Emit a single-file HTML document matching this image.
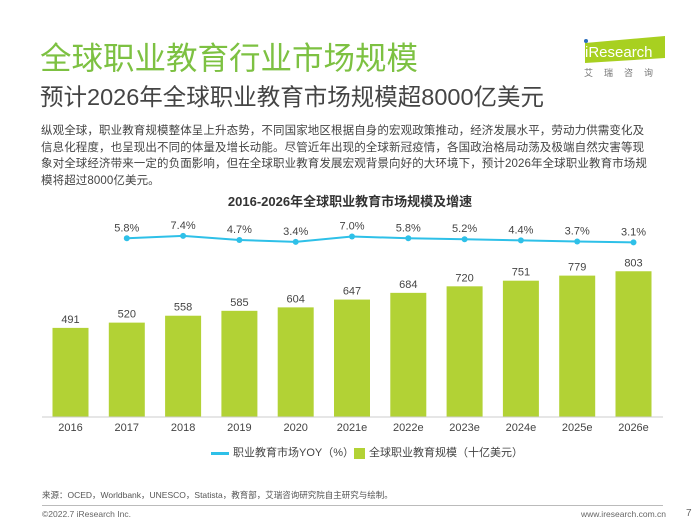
<!DOCTYPE html>
<html><head><meta charset="utf-8"><style>
body{margin:0;width:700px;height:525px;background:#fff;font-family:"Liberation Sans","Noto Sans CJK SC",sans-serif;position:relative;overflow:hidden}
.a{position:absolute;white-space:nowrap}
</style></head><body>
<div class="a" style="left:40px;top:40px;font-size:31.5px;line-height:36px;color:#7dc142">全球职业教育行业市场规模</div>
<div class="a" style="left:40px;top:84px;font-size:23.5px;line-height:26px;color:#444">预计2026年全球职业教育市场规模超8000亿美元</div>
<div class="a" style="left:581px;top:36px;width:86px;height:44px">
<svg width="86" height="44"><polygon points="4,7 84,0 84,22 4,27" fill="#a8d020"/><circle cx="5" cy="5" r="2" fill="#2a6ebb"/><text x="4" y="21" font-size="15" fill="#fff" font-family="Liberation Sans">iResearch</text><text x="3" y="40" font-size="9" fill="#777" letter-spacing="11">艾瑞咨询</text></svg></div>
<div class="a" style="left:41px;top:123px;font-size:11.5px;line-height:16.7px;letter-spacing:0.1px;color:#444">纵观全球，职业教育规模整体呈上升态势，不同国家地区根据自身的宏观政策推动，经济发展水平，劳动力供需变化及<br>信息化程度，也呈现出不同的体量及增长动能。尽管近年出现的全球新冠疫情，各国政治格局动荡及极端自然灾害等现<br>象对全球经济带来一定的负面影响，但在全球职业教育发展宏观背景向好的大环境下，预计2026年全球职业教育市场规<br>模将超过8000亿美元。</div>
<div class="a" style="left:0;width:700px;text-align:center;top:191px;font-size:13px;font-weight:bold;color:#333">2016-2026年全球职业教育市场规模及增速</div>
<svg id="c" class="a" style="left:0;top:0" width="700" height="525"></svg>
<div class="a" style="left:211px;top:444px;font-size:11px;color:#444"><span style="display:inline-block;width:18px;height:3px;background:#2ec0e8;vertical-align:middle;margin-right:4px"></span>职业教育市场YOY（%）</div>
<div class="a" style="left:354px;top:444px;font-size:11px;color:#444"><span style="display:inline-block;width:11px;height:11px;background:#b2d235;vertical-align:middle;margin-right:4px"></span>全球职业教育规模（十亿美元）</div>
<div class="a" style="left:42px;top:489px;font-size:8.5px;color:#555">来源：OCED，Worldbank，UNESCO，Statista，教育部，艾瑞咨询研究院自主研究与绘制。</div>
<div class="a" style="left:42px;top:505px;width:621px;height:1px;background:#bbb"></div>
<div class="a" style="left:42px;top:509px;font-size:8.5px;color:#666">©2022.7 iResearch Inc.</div>
<div class="a" style="left:581px;top:509px;font-size:8.5px;color:#666">www.iresearch.com.cn</div>
<div class="a" style="left:686px;top:508px;font-size:10px;color:#666">7</div>
<script>
const categories=["2016","2017","2018","2019","2020","2021e","2022e","2023e","2024e","2025e","2026e"];
const sizeValues=[491,520,558,585,604,647,684,720,751,779,803];
const yoyValues=[null,5.8,7.4,4.7,3.4,7.0,5.8,5.2,4.4,3.7,3.1];
const yoyLabels=["","5.8%","7.4%","4.7%","3.4%","7.0%","5.8%","5.2%","4.4%","3.7%","3.1%"];
const svg=document.getElementById('c');const NS='http://www.w3.org/2000/svg';
const xC=i=>70.5+i*56.3;const yB=v=>417-v*0.1815;const yL=v=>247-v*1.5;
function mk(t,a){const e=document.createElementNS(NS,t);for(const k in a)e.setAttribute(k,a[k]);svg.appendChild(e);return e;}
categories.forEach((c,i)=>{
const r=mk('rect',{x:xC(i)-18,y:yB(sizeValues[i]),width:36,height:417-yB(sizeValues[i]),fill:'#b2d235'});


const t=mk('text',{x:xC(i),y:yB(sizeValues[i])-5,'text-anchor':'middle','font-size':11,fill:'#444'});t.textContent=sizeValues[i];


const x=mk('text',{x:xC(i),y:431,'text-anchor':'middle','font-size':11,fill:'#444'});x.textContent=c;


});
const ax=mk('line',{x1:42,x2:663,y1:417,y2:417,stroke:'#ccc','stroke-width':1});


let pts=[];yoyValues.forEach((v,i)=>{if(v!==null)pts.push(xC(i)+','+yL(v));});
const pl=mk('polyline',{points:pts.join(' '),fill:'none',stroke:'#2ec0e8','stroke-width':2});


yoyValues.forEach((v,i)=>{if(v===null)return;
const p=mk('circle',{cx:xC(i),cy:yL(v),r:3,fill:'#2ec0e8'});


const t=mk('text',{x:xC(i),y:yL(v)-7,'text-anchor':'middle','font-size':11,fill:'#444'});t.textContent=yoyLabels[i];


});
</script>
</body></html>
